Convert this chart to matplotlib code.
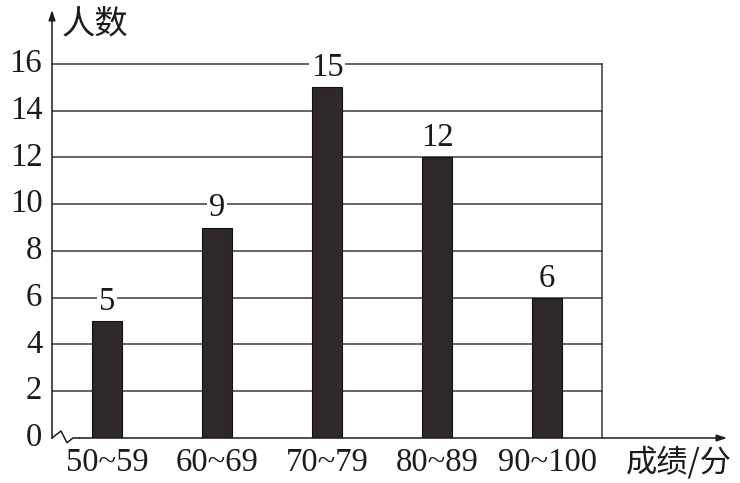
import matplotlib
matplotlib.use("Agg")
import matplotlib.pyplot as plt
import numpy as np

categories = ["50~59", "60~69", "70~79", "80~89", "90~100"]
counts = [5, 9, 15, 12, 6]
yticks = [0, 2, 4, 6, 8, 10, 12, 14, 16]
ylabel = "人数"
xlabel = "成绩/分"

W, H = 740, 483
fig = plt.figure(figsize=(W / 100, H / 100), dpi=100)
# axes pixel box: x 52..727, y 10..438 (from top)
ax = fig.add_axes([52 / W, (H - 438) / H, (727 - 52) / W, (438 - 10) / H])
ax.set_xlim(-0.5, 5.636)
ax.set_ylim(0, 18.31)
ax.axis("off")

serif = ["Liberation Serif", "DejaVu Serif"]
cjk = ["Noto Sans CJK SC", "DejaVu Sans"]
ink = "#1c1a1a"
fs = 23.5

x = np.arange(len(categories))
# grid lines
for t in yticks[1:]:
    ax.plot([-0.5, 4.5], [t, t], color="#3a3a3a", lw=1.1, zorder=1)
# right border
ax.plot([4.5, 4.5], [0, 16], color="#3a3a3a", lw=1.1, zorder=1)

# bars
ax.bar(x, counts, width=0.28, color="#2e2828", edgecolor="#111111", lw=0.8, zorder=3)

# value labels
for xi, c in zip(x, counts):
    ax.annotate(str(c), (xi, c), xytext=(0, 14), textcoords="offset points",
                ha="center", va="center", fontsize=fs, family=serif, color=ink,
                bbox=dict(boxstyle="square,pad=0.05", fc="white", ec="none"), zorder=4)

# y tick labels
for t in yticks:
    ax.annotate(str(t), (-0.5, t), xytext=(-7, 0), textcoords="offset points",
                ha="right", va="center", fontsize=fs, family=serif, color=ink)

# x tick labels
for xi, lab in zip(x, categories):
    ax.annotate(lab, (xi, 0), xytext=(0, -18), textcoords="offset points",
                ha="center", va="center", fontsize=fs, family=serif, color=ink)

# axes: y axis with arrow
ax.annotate("", xy=(-0.5, 18.31), xytext=(-0.5, 0),
            arrowprops=dict(arrowstyle="-|>,head_length=0.6,head_width=0.2", color=ink, lw=1.1,
                            shrinkA=0, shrinkB=0))
# x axis with zigzag break
zx = [-0.5, -0.418, -0.364, -0.309, -0.25]
zy = [0, 0.3, -0.2, 0.0, 0.0]
ax.plot(zx, zy, color=ink, lw=1.1, clip_on=False, zorder=5)
ax.annotate("", xy=(5.636, 0), xytext=(-0.25, 0),
            arrowprops=dict(arrowstyle="-|>,head_length=0.6,head_width=0.2", color=ink, lw=1.1,
                            shrinkA=0, shrinkB=0))

fig.text(62 / W, 1 - 24 / H, ylabel, ha="left", va="center", fontsize=24, family=cjk, color=ink)
fig.text(679 / W, 1 - 462 / H, xlabel, ha="center", va="center", fontsize=22.5, family=cjk, color=ink)

fig.savefig("out.png", dpi=100)
